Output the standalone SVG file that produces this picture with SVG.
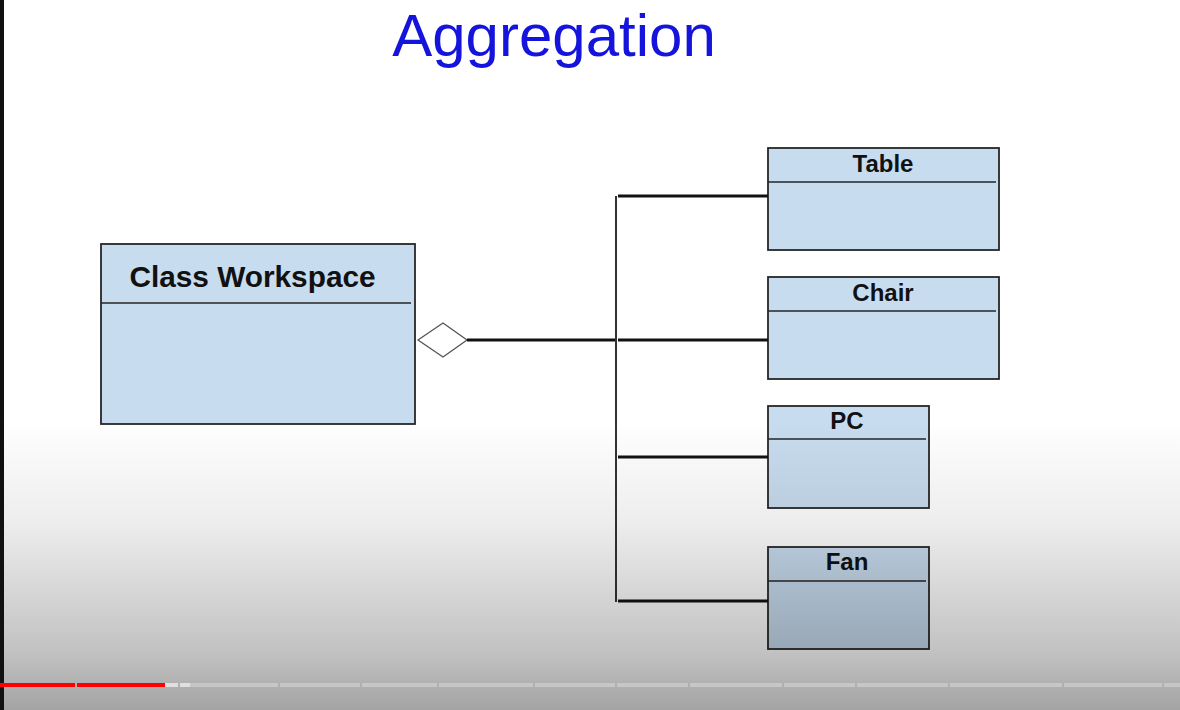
<svg xmlns="http://www.w3.org/2000/svg" width="1180" height="710" viewBox="0 0 1180 710">
<defs>
<linearGradient id="shade" x1="0" y1="0" x2="0" y2="1">
<stop offset="0" stop-color="#000" stop-opacity="0"/>
<stop offset="0.35" stop-color="#000" stop-opacity="0.07"/>
<stop offset="0.8" stop-color="#000" stop-opacity="0.24"/>
<stop offset="1" stop-color="#000" stop-opacity="0.36"/>
</linearGradient>
</defs>
<style>
.box{fill:#c8dcef;stroke:#262626;stroke-width:1.8}
.div{stroke:#262626;stroke-width:1.5}
.name{font-family:"Liberation Sans",Arial,sans-serif;font-weight:bold;fill:#111;text-anchor:middle}
.conn{stroke:#111;stroke-width:3.2;fill:none}
.trunk{stroke:#333;stroke-width:2;fill:none}
.seg{fill:#c6c6c6}
</style>
<rect width="1180" height="710" fill="#fff"/>
<text x="554" y="56" font-family="Liberation Sans,Arial,sans-serif" font-size="60" fill="#1414dc" text-anchor="middle">Aggregation</text>

<g id="workspace">
<rect class="box" x="101" y="244" width="314" height="180"/>
<line class="div" x1="101" y1="303" x2="411" y2="303"/>
<text class="name" x="252.5" y="287" font-size="29.8">Class Workspace</text>
</g>

<g id="table">
<rect class="box" x="768" y="148" width="231" height="102"/>
<line class="div" x1="768" y1="182" x2="996" y2="182"/>
<text class="name" x="883" y="172" font-size="24">Table</text>
</g>

<g id="chair">
<rect class="box" x="768" y="277" width="231" height="102"/>
<line class="div" x1="768" y1="311" x2="996" y2="311"/>
<text class="name" x="883" y="301" font-size="24">Chair</text>
</g>

<g id="pc">
<rect class="box" x="768" y="406" width="161" height="102"/>
<line class="div" x1="768" y1="439" x2="926" y2="439"/>
<text class="name" x="847" y="429" font-size="24">PC</text>
</g>

<g id="fan">
<rect class="box" x="768" y="547" width="161" height="102"/>
<line class="div" x1="768" y1="581" x2="926" y2="581"/>
<text class="name" x="847" y="570" font-size="24">Fan</text>
</g>

<g id="connectors">
<polygon points="418,340 443,323 467,340 443,357" fill="#fff" stroke="#555" stroke-width="1.3"/>
<line class="conn" x1="467" y1="340" x2="617" y2="340"/>
<line class="trunk" x1="616" y1="196" x2="616" y2="602"/>
<line class="conn" x1="618" y1="196" x2="768" y2="196"/>
<line class="conn" x1="618" y1="340" x2="768" y2="340"/>
<line class="conn" x1="618" y1="457" x2="768" y2="457"/>
<line class="conn" x1="618" y1="601" x2="768" y2="601"/>
</g>

<rect x="0" y="420" width="1180" height="290" fill="url(#shade)"/>
<rect x="0" y="0" width="4" height="710" fill="#111"/>

<g id="progress">
<rect class="seg" x="190" y="683" width="88" height="4"/>
<rect class="seg" x="280" y="683" width="80" height="4"/>
<rect class="seg" x="362" y="683" width="75" height="4"/>
<rect class="seg" x="439" y="683" width="94" height="4"/>
<rect class="seg" x="535" y="683" width="80" height="4"/>
<rect class="seg" x="617" y="683" width="71" height="4"/>
<rect class="seg" x="690" y="683" width="92" height="4"/>
<rect class="seg" x="784" y="683" width="71" height="4"/>
<rect class="seg" x="857" y="683" width="91" height="4"/>
<rect class="seg" x="950" y="683" width="112" height="4"/>
<rect class="seg" x="1064" y="683" width="98" height="4"/>
<rect class="seg" x="1164" y="683" width="16" height="4"/>
<rect x="165" y="683" width="13" height="4" fill="#e0e0e0"/>
<rect x="180" y="683" width="10" height="4" fill="#e0e0e0"/>
<rect x="0" y="683" width="75" height="4" fill="#f00"/>
<rect x="77" y="683" width="88" height="4" fill="#f00"/>
</g>
</svg>
